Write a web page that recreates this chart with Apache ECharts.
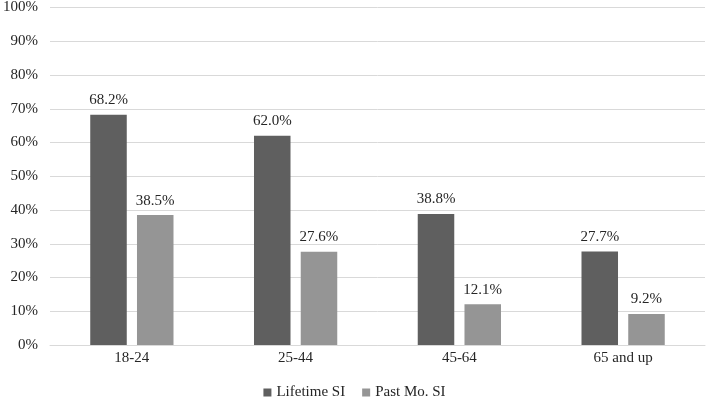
<!DOCTYPE html>
<html><head><meta charset="utf-8">
<script src="https://cdn.jsdelivr.net/npm/echarts@6/dist/echarts.min.js"></script>
<style>html,body{margin:0;padding:0;background:#fff}#c{width:709px;height:406px}</style>
</head><body><div id="c"></div>
<script>
var categories = ['18-24', '25-44', '45-64', '65 and up'];
var lifetimeSI = [68.2, 62.0, 38.8, 27.7];
var pastMoSI = [38.5, 27.6, 12.1, 9.2];
var yTicks = [0, 10, 20, 30, 40, 50, 60, 70, 80, 90, 100];

var font = 'Liberation Serif';
var chart = echarts.init(document.getElementById('c'));
var labelCfg = {
  show: true, position: 'top', distance: 7,
  formatter: function (p) { return p.value.toFixed(1) + '%'; },
  fontFamily: font, fontSize: 15, color: '#262626'
};
chart.setOption({
  animation: false,
  textStyle: { fontFamily: font },
  grid: { left: 49, right: 4, top: 7, bottom: 61, containLabel: false },
  legend: {
    bottom: 1, left: 'center', itemWidth: 8, itemHeight: 8, itemGap: 17,
    textStyle: { fontFamily: font, fontSize: 15, color: '#262626', fontWeight: 'normal' },
    icon: 'rect',
    data: [
      { name: 'Lifetime SI', textStyle: { fontFamily: font } },
      { name: 'Past Mo. SI', textStyle: { fontFamily: font } }
    ]
  },
  xAxis: {
    type: 'category', data: categories,
    axisLine: { lineStyle: { color: '#d9d9d9' } },
    axisTick: { show: false },
    axisLabel: { fontFamily: font, fontSize: 15, color: '#262626', margin: 6 }
  },
  yAxis: {
    type: 'value', min: yTicks[0], max: yTicks[yTicks.length - 1], interval: 10,
    axisLine: { show: false }, axisTick: { show: false },
    splitLine: { lineStyle: { color: '#d9d9d9', width: 1 } },
    axisLabel: { fontFamily: font, fontSize: 15, color: '#262626', margin: 12,
      formatter: function (v) { return v + '%'; } }
  },
  series: [
    { name: 'Lifetime SI', type: 'bar', data: lifetimeSI, barWidth: '22.3%', barGap: '28%',
      itemStyle: { color: '#5f5f5f' }, label: labelCfg },
    { name: 'Past Mo. SI', type: 'bar', data: pastMoSI, barWidth: '22.3%',
      itemStyle: { color: '#959595' }, label: labelCfg }
  ]
});
</script></body></html>
